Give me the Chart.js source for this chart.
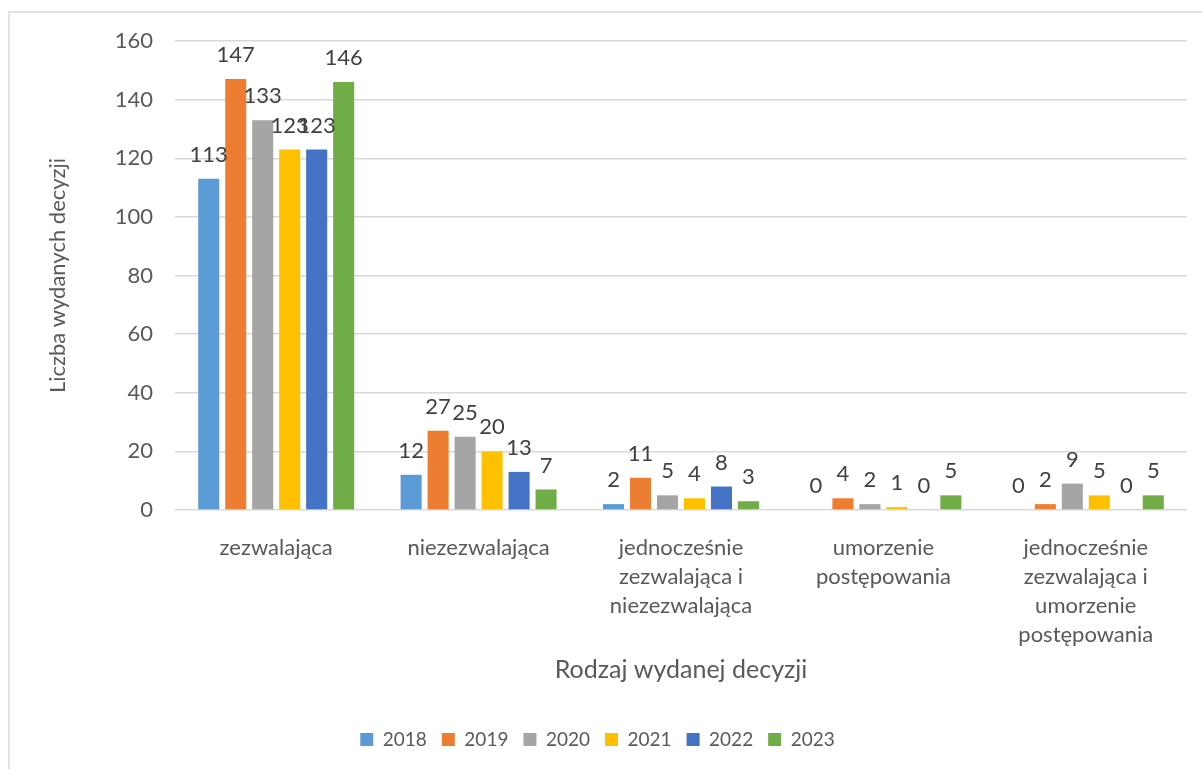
<!DOCTYPE html>
<html lang="pl">
<head>
<meta charset="utf-8">
<title>Liczba wydanych decyzji</title>
<script src="https://cdn.jsdelivr.net/npm/chart.js@4/dist/chart.umd.min.js"></script>
<style>
  html, body { margin: 0; padding: 0; background: #fff; }
  #wrap { width: 1202px; height: 769px; position: relative; }
</style>
</head>
<body>
<div id="wrap"><canvas id="decisions"></canvas></div>
<script>
const categories = [
  "zezwalająca",
  "niezezwalająca",
  ["jednocześnie", "zezwalająca i", "niezezwalająca"],
  ["umorzenie", "postępowania"],
  ["jednocześnie", "zezwalająca i", "umorzenie", "postępowania"],
];
const years = ["2018", "2019", "2020", "2021", "2022", "2023"];
const values2018 = [113, 12, 2, 0, 0];
const values2019 = [147, 27, 11, 4, 2];
const values2020 = [133, 25, 5, 2, 9];
const values2021 = [123, 20, 4, 1, 5];
const values2022 = [123, 13, 8, 0, 0];
const values2023 = [146, 7, 3, 5, 5];
const yTicks = [0, 20, 40, 60, 80, 100, 120, 140, 160];

const colors = ["#5B9BD5", "#ED7D31", "#A5A5A5", "#FFC000", "#4472C4", "#70AD47"];
const series = [values2018, values2019, values2020, values2021, values2022, values2023];

const FONT = "Lato, 'Noto Sans', sans-serif";
Chart.defaults.font.family = FONT;
Chart.defaults.color = "#595959";

// frame around the whole chart area
const frame = {
  id: "frame",
  beforeDraw(chart) {
    const ctx = chart.ctx;
    ctx.save();
    ctx.fillStyle = "#fff";
    ctx.fillRect(0, 0, chart.width, chart.height);
    ctx.strokeStyle = "#d9d9d9";
    ctx.lineWidth = 1.5;
    ctx.strokeRect(9, 12, chart.width + 10, chart.height + 10);
    ctx.restore();
  },
};

// value labels above each bar
const barValues = {
  id: "barValues",
  afterDatasetsDraw(chart) {
    const ctx = chart.ctx;
    ctx.save();
    ctx.font = "22px " + FONT;
    ctx.fillStyle = "#404040";
    ctx.textAlign = "center";
    ctx.textBaseline = "middle";
    chart.data.datasets.forEach((ds, i) => {
      chart.getDatasetMeta(i).data.forEach((bar, j) => {
        ctx.fillText(String(ds.data[j]), bar.x, bar.y - 24);
      });
    });
    ctx.restore();
  },
};

new Chart(document.getElementById("decisions"), {
  type: "bar",
  data: {
    labels: categories,
    datasets: years.map((year, i) => ({
      label: year,
      data: series[i],
      backgroundColor: colors[i],
      borderWidth: 0,
      categoryPercentage: 0.8,
      barPercentage: 0.78,
    })),
  },
  options: {
    responsive: true,
    maintainAspectRatio: false,
    animation: false,
    layout: { padding: { top: 41, right: 15, left: 8, bottom: 10 } },
    plugins: {
      tooltip: { enabled: false },
      legend: {
        position: "bottom",
        labels: {
          boxWidth: 13,
          boxHeight: 13,
          padding: 15,
          color: "#595959",
          font: { size: 19 },
        },
      },
    },
    scales: {
      x: {
        grid: { display: false },
        border: { display: false },
        ticks: {
          color: "#595959",
          font: { size: 22, lineHeight: 1.32 },
          padding: 15,
          maxRotation: 0,
          autoSkip: false,
        },
        title: {
          display: true,
          text: "Rodzaj wydanej decyzji",
          color: "#595959",
          font: { size: 25 },
          padding: { top: 0, bottom: 30 },
        },
        afterFit(scale) { scale.height = 205; },
      },
      y: {
        min: 0,
        max: 160,
        afterBuildTicks(scale) { scale.ticks = yTicks.map((v) => ({ value: v })); },
        grid: { color: "#d9d9d9", lineWidth: 1.5, drawTicks: false },
        border: { display: false },
        ticks: {
          color: "#595959",
          font: { size: 22 },
          padding: 22,
        },
        title: {
          display: true,
          text: "Liczba wydanych decyzji",
          color: "#595959",
          font: { size: 22 },
          padding: { top: 37, bottom: 0 },
        },
        afterFit(scale) { scale.width = 167; },
      },
    },
  },
  plugins: [frame, barValues],
});
</script>
</body>
</html>
